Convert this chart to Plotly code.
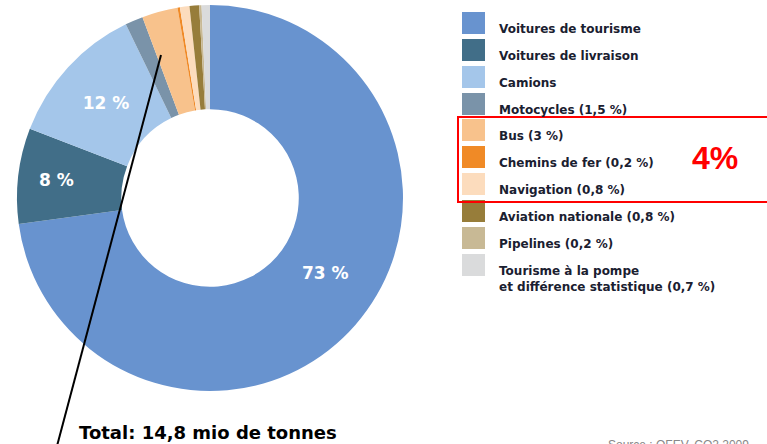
import plotly.graph_objects as go

# ---- data ----
categories = [
    "Voitures de tourisme",
    "Voitures de livraison",
    "Camions",
    "Motocycles (1,5 %)",
    "Bus (3 %)",
    "Chemins de fer (0,2 %)",
    "Navigation (0,8 %)",
    "Aviation nationale (0,8 %)",
    "Pipelines (0,2 %)",
    "Tourisme à la pompe<br>et différence statistique (0,7 %)",
]
values = [73, 8, 12, 1.5, 3, 0.2, 0.8, 0.8, 0.2, 0.7]
slice_labels = ["73 %", "8 %", "12 %", "", "", "", "", "", "", ""]
colors = [
    "#6893cf", "#416e88", "#a4c6ea", "#7a93a9", "#f8c28c",
    "#f08a26", "#fcdcbd", "#977d3a", "#c8b995", "#dadbdc",
]
total_text = "Total: 14,8 mio de tonnes"
group_text = "4%"
source_text = "Source : OFEV, CO2 2009"

W, H = 767, 444

def px(x):
    return x / W

def py(y):
    return 1 - y / H

label_font = dict(family="DejaVu Sans", size=17, color="white", weight="bold")

# the largest slice's label sits a little off the slice centroid in the reference,
# so it is drawn as an annotation; the others stay as slice text
trace_text = [""] + slice_labels[1:]

fig = go.Figure()
fig.add_trace(go.Pie(
    labels=categories,
    values=values,
    text=trace_text,
    textinfo="text",
    textposition="inside",
    insidetextorientation="horizontal",
    textfont=label_font,
    marker=dict(colors=colors, line=dict(width=0)),
    hole=0.46,
    sort=False,
    direction="clockwise",
    rotation=0,
    domain=dict(x=[px(17), px(403)], y=[py(391), py(5)]),
    showlegend=False,
    hoverinfo="label+value",
))

shapes = []
annotations = []

annotations.append(dict(text=slice_labels[0], xref="paper", yref="paper",
                        x=px(325), y=py(273), xanchor="center", yanchor="middle",
                        showarrow=False, font=label_font))

# manual legend
row_y = [28, 55, 82, 109, 135, 162, 189, 216, 243, 270]
for i, (cat, col) in enumerate(zip(categories, colors)):
    top = row_y[i] - 16
    shapes.append(dict(type="rect", xref="paper", yref="paper",
                       x0=px(462), x1=px(485), y0=py(top + 22), y1=py(top),
                       fillcolor=col, line=dict(width=0)))
    annotations.append(dict(text=cat, xref="paper", yref="paper",
                            x=px(497), y=py(row_y[i] - 8),
                            xanchor="left", yanchor="top", showarrow=False,
                            align="left",
                            font=dict(family="DejaVu Sans", size=12, weight="bold",
                                      color="#1a2030")))

# red group box
shapes.append(dict(type="rect", xref="paper", yref="paper",
                   x0=px(458), x1=px(770), y0=py(202), y1=py(117),
                   line=dict(color="#ff0000", width=2), fillcolor="rgba(0,0,0,0)"))
annotations.append(dict(text="<b>" + group_text + "</b>", xref="paper", yref="paper",
                        x=px(715), y=py(158), xanchor="center", yanchor="middle",
                        showarrow=False,
                        font=dict(family="Liberation Sans, Arial", size=32, color="#ff0000")))

# pointer line
shapes.append(dict(type="line", xref="paper", yref="paper",
                   x0=px(161), y0=py(55), x1=px(57), y1=py(446),
                   line=dict(color="black", width=2)))

annotations.append(dict(text="<b>" + total_text + "</b>", xref="paper", yref="paper",
                        x=px(77), y=py(432), xanchor="left", yanchor="middle",
                        showarrow=False,
                        font=dict(family="DejaVu Sans", size=18, color="black")))
annotations.append(dict(text=source_text, xref="paper", yref="paper",
                        x=px(606), y=py(436), xanchor="left", yanchor="top",
                        showarrow=False,
                        font=dict(family="Liberation Sans, Arial", size=12, color="#888888")))

fig.update_layout(
    width=W, height=H,
    margin=dict(l=0, r=0, t=0, b=0),
    paper_bgcolor="white",
    plot_bgcolor="white",
    shapes=shapes,
    annotations=annotations,
)

fig.write_html("out.html",
               config={"displayModeBar": False},
               post_script="document.body.style.margin='0';document.body.style.overflow='hidden';")
